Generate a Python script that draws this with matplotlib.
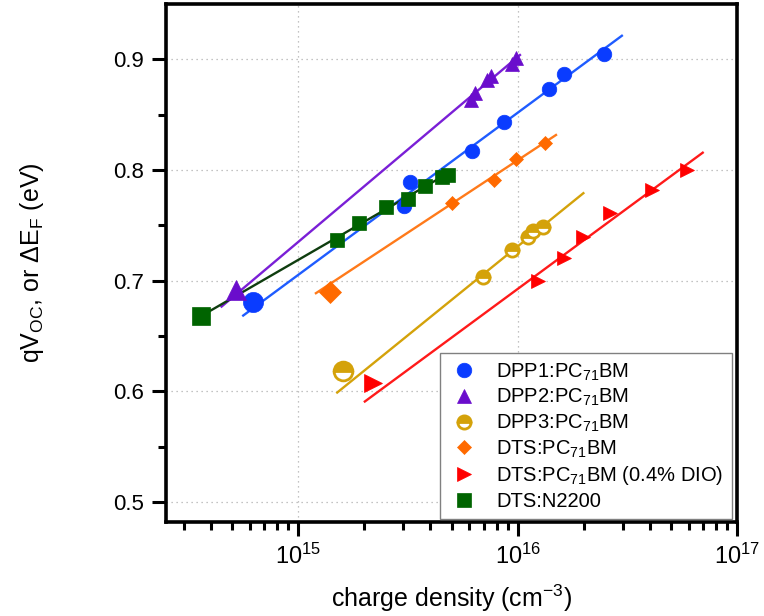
import numpy as np
import matplotlib
matplotlib.use("Agg")
import matplotlib.pyplot as plt

plt.rcParams['font.family'] = ['Liberation Sans', 'DejaVu Sans']
plt.rcParams['mathtext.fontset'] = 'custom'
plt.rcParams['mathtext.rm'] = 'Liberation Sans'
plt.rcParams['mathtext.it'] = 'Liberation Sans:italic'
plt.rcParams['mathtext.default'] = 'regular'

# data: charge density (cm^-3) and qVoc (eV)
dpp1_n = [6.23e14, 3.03e15, 3.23e15, 6.17e15, 8.68e15, 1.39e16, 1.62e16, 2.47e16]
dpp1_v = [0.681, 0.7675, 0.789, 0.817, 0.843, 0.873, 0.887, 0.905]
dpp1_fit_n = [5.61e14, 2.98e16]
dpp1_fit_v = [0.6684, 0.9213]

dpp2_n = [5.19e14, 6.10e15, 6.38e15, 7.22e15, 7.52e15, 9.38e15, 9.81e15]
dpp2_v = [0.6916, 0.8632, 0.8693, 0.8813, 0.8849, 0.8958, 0.9009]
dpp2_fit_n = [4.47e14, 1.023e16]
dpp2_fit_v = [0.6765, 0.9039]

dpp3_n = [1.60e15, 6.96e15, 9.38e15, 1.117e16, 1.177e16, 1.307e16]
dpp3_v = [0.618, 0.7036, 0.7277, 0.7397, 0.7452, 0.7488]
dpp3_fit_n = [1.504e15, 1.99e16]
dpp3_fit_v = [0.5988, 0.779]

dts_n = [1.393e15, 5.0e15, 7.81e15, 9.81e15, 1.33e16]
dts_v = [0.690, 0.7699, 0.791, 0.8097, 0.8247]
dts_fit_n = [1.203e15, 1.493e16]
dts_fit_v = [0.6886, 0.8316]

dio_n = [2.19e15, 1.24e16, 1.63e16, 1.99e16, 2.63e16, 4.08e16, 5.89e16]
dio_v = [0.6073, 0.6997, 0.7202, 0.7397, 0.7609, 0.7819, 0.800]
dio_fit_n = [2.01e15, 6.96e16]
dio_fit_v = [0.5907, 0.8156]

n2200_n = [3.62e14, 1.495e15, 1.895e15, 2.51e15, 3.17e15, 3.78e15, 4.50e15, 4.82e15]
n2200_v = [0.6681, 0.7368, 0.7524, 0.7668, 0.7735, 0.7855, 0.7934, 0.7955]
n2200_fit_n = [3.62e14, 4.87e15]
n2200_fit_v = [0.6681, 0.7976]

fig = plt.figure(figsize=(7.64, 6.16), dpi=100)
ax = fig.add_axes([0.217, 0.153, 0.748, 0.8405])

series = [
    # n, v, fit n, fit v, marker, color, line color, small size, big size, label
    (dpp1_n, dpp1_v, dpp1_fit_n, dpp1_fit_v, 'o', '#0a3cff', '#1f5cff', 10.5, 14.5, 'DPP1:PC$_{71}$BM'),
    (dpp2_n, dpp2_v, dpp2_fit_n, dpp2_fit_v, '^', '#6a0dcc', '#7a1fd6', 10, 14, 'DPP2:PC$_{71}$BM'),
    (dpp3_n, dpp3_v, dpp3_fit_n, dpp3_fit_v, 'o', '#d4a20a', '#d4a20a', 9.5, 13.5, 'DPP3:PC$_{71}$BM'),
    (dts_n, dts_v, dts_fit_n, dts_fit_v, 'D', '#ff6a00', '#ff7a1a', 7.6, 11, 'DTS:PC$_{71}$BM'),
    (dio_n, dio_v, dio_fit_n, dio_fit_v, '>', '#ff0000', '#ff1a1a', 10.5, 13, 'DTS:PC$_{71}$BM (0.4% DIO)'),
    (n2200_n, n2200_v, n2200_fit_n, n2200_fit_v, 's', '#006400', '#0f3d0f', 9.4, 13, 'DTS:N2200'),
]

handles = []
for n, v, fn, fv, mk, col, lcol, s_small, s_big, lab in series:
    ax.plot(fn, fv, '-', color=lcol, lw=1.7, zorder=2)
    if lab.startswith('DPP3'):
        kw = dict(marker='o', fillstyle='top', markerfacecolor=col,
                  markerfacecoloralt='white', markeredgecolor=col, markeredgewidth=2)
    else:
        kw = dict(marker=mk, color=col, markeredgecolor=col, markeredgewidth=0.5)
    ax.plot(n[:1], v[:1], ls='none', markersize=s_big, zorder=3, **kw)
    h, = ax.plot(n[1:], v[1:], ls='none', markersize=s_small, zorder=3, label=lab, **kw)
    handles.append(h)

ax.set_xscale('log')
ax.set_xlim(2.49e14, 1e17)
ax.set_ylim(0.482, 0.95)
ax.set_yticks([0.5, 0.6, 0.7, 0.8, 0.9])
ax.set_yticks([0.55, 0.65, 0.75, 0.85], minor=True)

ax.grid(True, which='major', color='#b0b0b0', linestyle=(0, (1, 3)), linewidth=0.9)
for sp in ax.spines.values():
    sp.set_linewidth(2.6)
ax.tick_params(which='major', direction='out', length=10, width=2.2, labelsize=16, pad=6,
               top=False, right=False)
ax.tick_params(axis='x', which='major', labelsize=17)
ax.tick_params(which='minor', direction='out', length=6, width=2.2, top=False, right=False)

ax.set_xlabel('charge density (cm$^{-3}$)', fontsize=18, labelpad=10)
ax.set_ylabel('qV$_{OC}$, or ΔE$_{F}$ (eV)', fontsize=18, labelpad=48)

leg = ax.legend(handles=handles, loc='lower right', bbox_to_anchor=(0.99, 0.006),
                borderaxespad=0, fontsize=14.5, numpoints=1, handlelength=1.6,
                handletextpad=0.8, labelspacing=0.22, borderpad=0.4, fancybox=False,
                framealpha=1, edgecolor='#808080')
leg.get_frame().set_linewidth(1.0)

fig.savefig('out.png', dpi=100)
